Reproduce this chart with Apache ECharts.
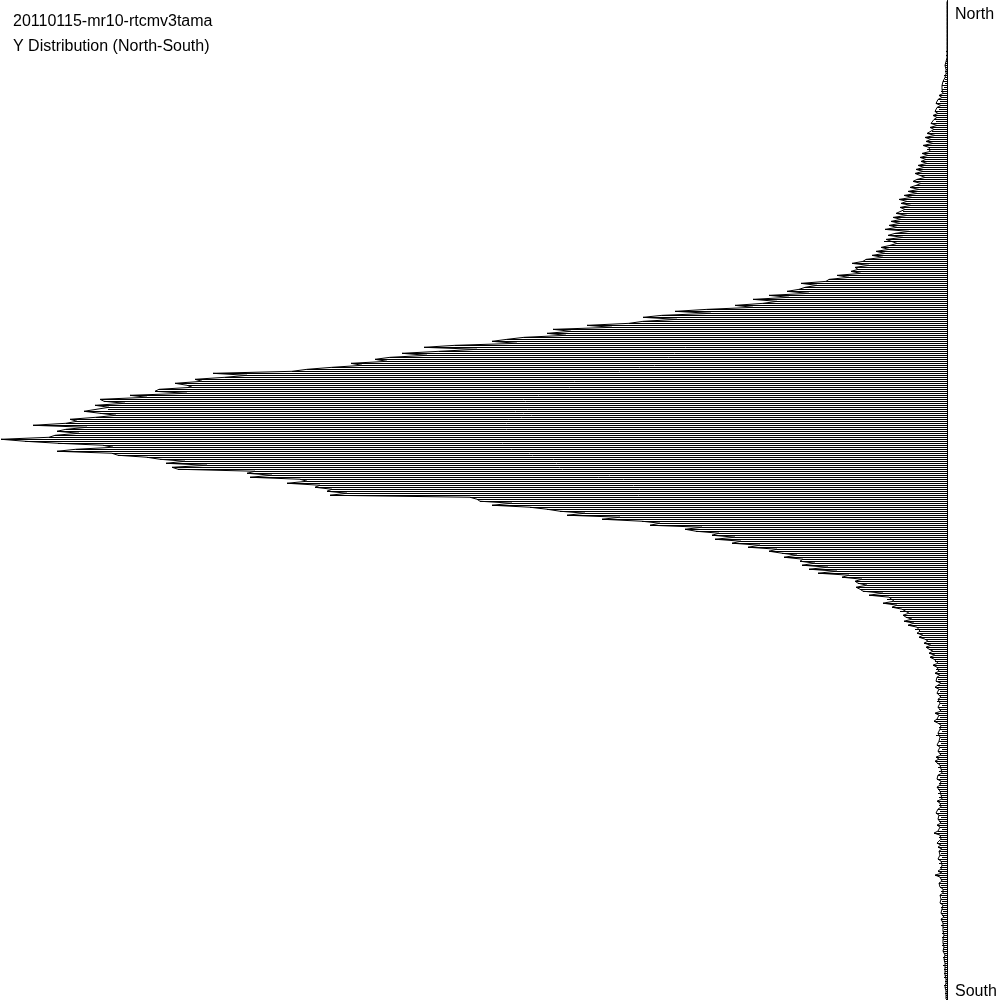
<!DOCTYPE html>
<html>
<head>
<meta charset="utf-8">
<script src="https://cdn.jsdelivr.net/npm/echarts@6/dist/echarts.min.js"></script>
<style>
    html, body { margin: 0; padding: 0; background: #fff; }
    #chart { width: 1000px; height: 1000px; }
</style>
</head>
<body>
<div id="chart"></div>
<script>
    // bin counts, one per 2px row, from north (top) to south (bottom)
    var northRows = [
        0,0,0,0,0, 0,0,0,0,0, 0,0,0,0,0, 0,0,0,0,0, 0,0,0,0,0,
        1,0,1,0,1, 1,1,2,1,1, 2,1,3,2,2, 4,2,5,3,5, 6,4,8,5,9,
        7,11,6,10,8, 12,9,14,10,13, 11,16,10,17,13, 15,20,12,22,16, 21,14,24,18,20,
        17,25,19,27,21, 26,20,29,23,31, 24,32,27,22,30, 34,26,31,37,28, 39,30,43,35,48,
        40,46,36,47,42, 44,51,40,54,46, 56,47,58,50,62, 38,52,59,44,61, 63,50,57,66,58,
        71,62,75,64,81, 84,95,78,92,89, 96,86,110,98,118, 121,146,130,142,148, 160,138,178,158,194,
        170,184,212,194,240, 272,236,285,304,270, 304,318,360,335,394, 376,400,381,423,440
    ];
    var centreRows = [
        455,430,492,523,470, 508,545,520,557,572, 560,596,585,615,640, 655,734,700,722,752,
        745,772,760,755,788, 792,760,817,800,847, 843,822,852,838,839, 863,847,831,851,877,
        870,881,914,860,881, 890,868,892,898,946, 922,889,844,834,871, 890,835,829,800,787,
        762,781,740,775,769, 692,700,675,697,647, 640,660,627,632,615, 620,600,617,477,470,
        467,435,455,417,400, 387,362,380,327,345, 305,287,297,245,262, 251,228,235,212,232,
        206,215,187,199,170, 178,165,150,163,144, 147,132,145,119,138, 110,129,98,105,85,
        92,89,80,91,87, 84,64,78,58,60, 53,64,50,55,45, 47,38,44,41,35,
        43,33,39,30,32, 27,30,24,28,22, 19,23,16,21,18, 14,18,12,17,13
    ];
    var southRows = [
        12,9,14,10,11, 8,12,7,10,9, 11,6,9,12,8, 7,10,8,6,9, 10,7,5,9,8,
        6,12,8,7,10, 13,9,6,8,7, 5,9,11,7,6, 8,6,10,7,5, 9,7,6,11,8,
        12,10,7,9,6, 8,5,9,7,10, 6,8,7,10,9, 7,9,6,8,5, 10,7,8,6,9,
        7,11,8,6,9, 8,6,10,7,5, 9,13,7,8,6, 7,10,6,9,5, 8,6,7,5,9,
        6,8,5,7,6, 9,5,12,7,6, 5,8,6,7,4, 6,4,7,5,6, 5,7,4,6,5,
        4,6,5,3,6, 5,4,6,4,3, 4,5,3,5,4, 3,4,5,3,4, 4,3,2,4,3,
        3,2,4,2,3, 2,3,2,3,1, 2,1,3,2,1, 1,2,1,1,1
    ];
    var counts = northRows.concat(centreRows, southRows);
    var bins = counts.map(function (v, i) { return 'bin' + i; });

    var titleLines = ['20110115-mr10-rtcmv3tama', 'Y Distribution (North-South)'];
    var endLabels = ['North', 'South'];

    var myChart = echarts.init(document.getElementById('chart'));
    var option = {
        animation: false,
        backgroundColor: '#fff',
        title: [{
            text: titleLines[0],
            left: 13, top: 14, padding: 0,
            textStyle: { color: '#000', fontSize: 16, fontWeight: 'normal', fontFamily: 'Liberation Sans' }
        }, {
            text: titleLines[1],
            left: 13, top: 39, padding: 0,
            textStyle: { color: '#000', fontSize: 16, fontWeight: 'normal', fontFamily: 'Liberation Sans' }
        }],
        graphic: [{
            type: 'text', left: 955, top: 7,
            style: { text: endLabels[0], fill: '#000', font: '16px "Liberation Sans"' }
        }, {
            type: 'text', left: 955, top: 984,
            style: { text: endLabels[1], fill: '#000', font: '16px "Liberation Sans"' }
        }],
        grid: { left: 0, top: 0.5, width: 947, height: 1000 },
        xAxis: {
            type: 'value',
            inverse: true,
            min: 0,
            max: 947,
            show: false
        },
        yAxis: {
            type: 'category',
            inverse: true,
            position: 'right',
            data: bins,
            axisLine: { onZero: false, lineStyle: { color: '#000', width: 1 } },
            axisTick: { show: false },
            axisLabel: { show: false },
            splitLine: { show: false }
        },
        series: [{//每行一条1px横线，从轴线向左
            type: 'custom',
            silent: true,
            encode: { x: 0, y: 1 },
            data: counts.map(function (v, i) { return [v, i]; }),
            renderItem: function (params, api) {
                if (!api.value(0)) return;
                var end = api.coord([api.value(0), api.value(1)]);
                var base = api.coord([0, api.value(1)]);
                var y = Math.floor(end[1]) + 0.5;
                return {
                    type: 'line',
                    shape: { x1: base[0], y1: y, x2: Math.round(end[0]), y2: y },
                    style: { stroke: '#000', lineWidth: 1 }
                };
            }
        }, {//端点连线
            type: 'line',
            data: counts,
            symbol: 'none',
            silent: true,
            lineStyle: { color: '#000', width: 1 }
        }]
    };
    myChart.setOption(option);
</script>
</body>
</html>
